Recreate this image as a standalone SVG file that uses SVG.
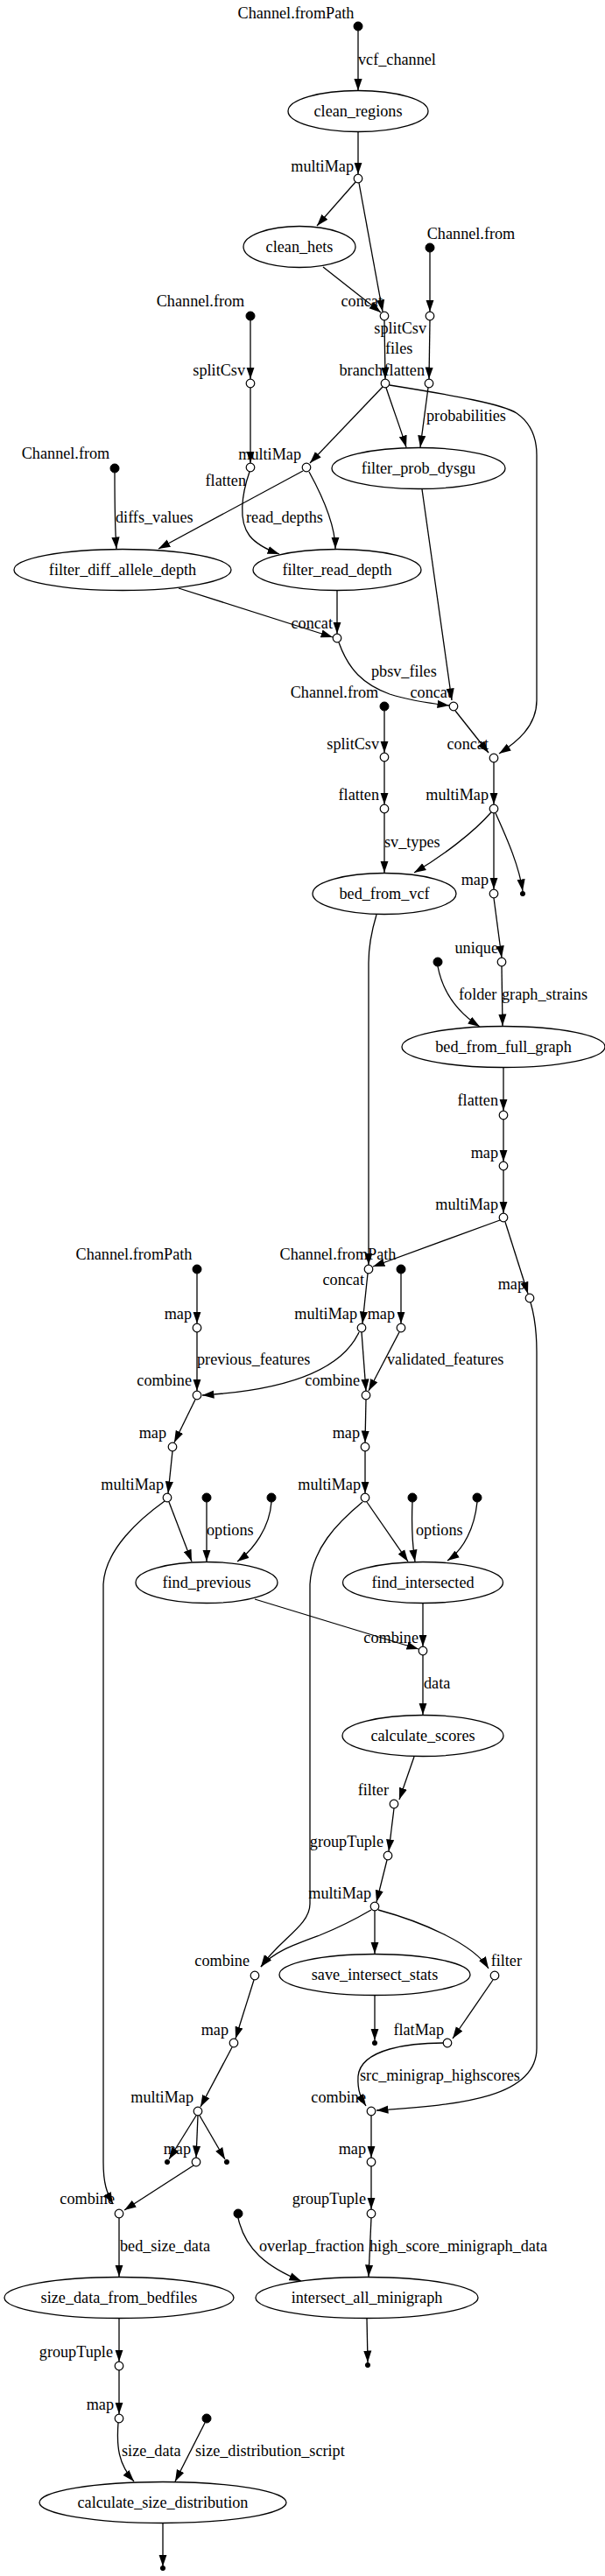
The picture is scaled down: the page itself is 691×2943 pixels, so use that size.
<svg xmlns="http://www.w3.org/2000/svg" width="691" height="2943" viewBox="0 0 691 2943">
<style>
text{font-family:"Liberation Serif","Times New Roman",serif;font-size:18.2px;fill:#000}
.nl{text-anchor:middle}
.xl{text-anchor:end}
.el{text-anchor:start}
.proc{fill:#fff;stroke:#000;stroke-width:1.3}
.op{fill:#fff;stroke:#000;stroke-width:1.2}
.pt{fill:#000;stroke:#000}
.e{fill:none;stroke:#000;stroke-width:1.3;marker-end:url(#arr)}
</style>
<defs>
<marker id="arr" markerUnits="userSpaceOnUse" markerWidth="14" markerHeight="10" refX="13.5" refY="5" orient="auto" viewBox="0 0 14 10">
<path d="M0,0.4 L13.5,5 L0,9.6 z" fill="#000"/>
</marker>
</defs>
<rect width="691" height="2943" fill="#fff"/>

<g id="connectors">
<path class="e" d="M409,35 L409,103.5"/>
<path class="e" d="M409,150.5 L409,199"/>
<path class="e" d="M406,208 L362,258"/>
<path class="e" d="M410,209 L437,356"/>
<path class="e" d="M369,305 L435,357"/>
<path class="e" d="M491,288 L491,356"/>
<path class="e" d="M439,366 L440,433"/>
<path class="e" d="M491,366 L490,433"/>
<path class="e" d="M286,366 L286,433"/>
<path class="e" d="M286,443 L286,529"/>
<path class="e" d="M437,442 L354,529"/>
<path class="e" d="M441,443 C450,470 459,494 464,511"/>
<path class="e" d="M445,440 C520,452 575,462 590,472 C606,483 613,500 613,520 L613,800 C613,830 590,848 570,861"/>
<path class="e" d="M489,443 L480,511"/>
<path class="e" d="M131,540 C131,570 131,600 133,627"/>
<path class="e" d="M285,539 C276,565 272,595 285,612 C293,622 305,628 319,633"/>
<path class="e" d="M346,538 L181,627"/>
<path class="e" d="M353,539 C370,570 383,600 383,627"/>
<path class="e" d="M482,559 L516,800"/>
<path class="e" d="M204,672 L380,728"/>
<path class="e" d="M385,675 L385,724"/>
<path class="e" d="M387,734 C398,765 415,782 445,793 C470,801 495,804 513,806"/>
<path class="e" d="M439,812 L439,860"/>
<path class="e" d="M439,870 L439,919"/>
<path class="e" d="M439,929 L439,997"/>
<path class="e" d="M520,812 L558,860"/>
<path class="e" d="M564,871 L564,919"/>
<path class="e" d="M561,928 C540,952 505,978 473,997"/>
<path class="e" d="M564,929 L564,1016"/>
<path class="e" d="M566,929 C580,960 593,990 597,1018"/>
<path class="e" d="M564,1026 L573,1094"/>
<path class="e" d="M500,1104 C505,1130 520,1155 548,1173"/>
<path class="e" d="M573,1104 L574,1172"/>
<path class="e" d="M430,1045 C424,1065 421,1080 421,1100 L421,1445"/>
<path class="e" d="M575,1220 L575,1269"/>
<path class="e" d="M575,1279 L575,1327"/>
<path class="e" d="M575,1337 L575,1386"/>
<path class="e" d="M571,1394 L426,1447"/>
<path class="e" d="M577,1396 L603,1478"/>
<path class="e" d="M225,1455 L225,1512"/>
<path class="e" d="M458,1455 L458,1512"/>
<path class="e" d="M420,1455 L414,1512"/>
<path class="e" d="M225,1522 L225,1589"/>
<path class="e" d="M410,1522 C390,1565 330,1588 231,1594"/>
<path class="e" d="M413,1522 L418,1589"/>
<path class="e" d="M456,1522 L421,1589"/>
<path class="e" d="M223,1599 L199,1648"/>
<path class="e" d="M418,1599 L417,1648"/>
<path class="e" d="M197,1658 L192,1706"/>
<path class="e" d="M417,1658 L417,1706"/>
<path class="e" d="M193,1716 L219,1784"/>
<path class="e" d="M236,1716 L236,1784"/>
<path class="e" d="M310,1716 C308,1745 290,1770 271,1784"/>
<path class="e" d="M188,1715 C160,1735 120,1770 118,1810 L118,2470 C118,2495 122,2505 129,2518"/>
<path class="e" d="M419,1716 L466,1784"/>
<path class="e" d="M471,1716 C470,1740 471,1765 474,1784"/>
<path class="e" d="M545,1716 C542,1745 530,1770 511,1783"/>
<path class="e" d="M414,1716 C385,1740 356,1770 354,1810 L354,2175 C354,2200 320,2215 298,2247"/>
<path class="e" d="M291,1827 L478,1884"/>
<path class="e" d="M483,1832 L483,1881"/>
<path class="e" d="M483,1891 L483,1959"/>
<path class="e" d="M473,2007 L456,2056"/>
<path class="e" d="M450,2066 L444,2115"/>
<path class="e" d="M442,2125 L430,2173"/>
<path class="e" d="M424,2182 C400,2196 385,2203 365,2211 C335,2222 312,2230 298,2247"/>
<path class="e" d="M428,2183 L428,2232"/>
<path class="e" d="M432,2182 C480,2195 540,2220 558,2249"/>
<path class="e" d="M428,2280 L428,2331"/>
<path class="e" d="M290,2262 L269,2329"/>
<path class="e" d="M563,2262 L517,2329"/>
<path class="e" d="M506,2334 C470,2334 412,2340 409,2372 C408,2390 413,2398 418,2406"/>
<path class="e" d="M606,1488 C611,1505 613,1525 613,1545 L613,2340 C613,2395 530,2405 430,2411"/>
<path class="e" d="M265,2339 L229,2407"/>
<path class="e" d="M424,2417 L424,2465"/>
<path class="e" d="M224,2417 L193,2467"/>
<path class="e" d="M226,2417 L224,2465"/>
<path class="e" d="M228,2417 L257,2467"/>
<path class="e" d="M221,2474 L142,2525"/>
<path class="e" d="M136,2534 L136,2601"/>
<path class="e" d="M424,2475 L424,2524"/>
<path class="e" d="M272,2534 C280,2570 305,2590 344,2606"/>
<path class="e" d="M424,2534 L421,2601"/>
<path class="e" d="M419,2649 L420,2699"/>
<path class="e" d="M136,2649 L136,2698"/>
<path class="e" d="M136,2708 L136,2758"/>
<path class="e" d="M135,2768 C133,2795 135,2815 153,2835"/>
<path class="e" d="M234,2768 L200,2835"/>
<path class="e" d="M186,2883 L186,2932"/>
<text class="el" x="409" y="74">vcf_channel</text>
<text class="el" x="440" y="404">files</text>
<text class="el" x="487" y="481">probabilities</text>
<text class="el" x="132" y="597">diffs_values</text>
<text class="el" x="281" y="597">read_depths</text>
<text class="el" x="424" y="773">pbsv_files</text>
<text class="el" x="439" y="968">sv_types</text>
<text class="el" x="524" y="1142">folder</text>
<text class="el" x="573" y="1142">graph_strains</text>
<text class="el" x="225" y="1559">previous_features</text>
<text class="el" x="442" y="1559">validated_features</text>
<text class="el" x="236" y="1754">options</text>
<text class="el" x="475" y="1754">options</text>
<text class="el" x="484" y="1929">data</text>
<text class="el" x="411" y="2377">src_minigrap_highscores</text>
<text class="el" x="137" y="2572">bed_size_data</text>
<text class="el" x="296" y="2572">overlap_fraction</text>
<text class="el" x="422" y="2572">high_score_minigraph_data</text>
<text class="el" x="139" y="2806">size_data</text>
<text class="el" x="223" y="2806">size_distribution_script</text>
</g>

<g id="p_vcf"><circle class="pt" cx="409" cy="30" r="5"/><text class="nl" x="338" y="21">Channel.fromPath</text></g>
<g id="clean_regions"><ellipse class="proc" cx="409" cy="127" rx="80" ry="23.5"/><text class="nl" x="409" y="133">clean_regions</text></g>
<g id="op_multiMap1"><circle class="op" cx="409" cy="204" r="4.8"/><text class="xl" x="404" y="196">multiMap</text></g>
<g id="clean_hets"><ellipse class="proc" cx="342" cy="282" rx="64" ry="23.5"/><text class="nl" x="342" y="288">clean_hets</text></g>
<g id="p_from1"><circle class="pt" cx="491" cy="283" r="5"/><text class="nl" x="538" y="273">Channel.from</text></g>
<g id="op_concat1"><circle class="op" cx="439" cy="361" r="4.8"/><text class="xl" x="437" y="350">concat</text></g>
<g id="op_splitCsv1"><circle class="op" cx="491" cy="361" r="4.8"/><text class="xl" x="487" y="381">splitCsv</text></g>
<g id="op_branch"><circle class="op" cx="440" cy="438" r="4.8"/><text class="xl" x="437" y="429">branch</text></g>
<g id="op_flatten1"><circle class="op" cx="490" cy="438" r="4.8"/><text class="xl" x="485" y="429">flatten</text></g>
<g id="p_from2"><circle class="pt" cx="286" cy="361" r="5"/><text class="nl" x="229" y="350">Channel.from</text></g>
<g id="op_splitCsv2"><circle class="op" cx="286" cy="438" r="4.8"/><text class="xl" x="280" y="429">splitCsv</text></g>
<g id="p_from3"><circle class="pt" cx="131" cy="535" r="5"/><text class="nl" x="75" y="524">Channel.from</text></g>
<g id="op_flatten2"><circle class="op" cx="286" cy="534" r="4.8"/><text class="xl" x="281" y="555">flatten</text></g>
<g id="op_multiMap2"><circle class="op" cx="350" cy="534" r="4.8"/><text class="xl" x="344" y="525">multiMap</text></g>
<g id="filter_prob_dysgu"><ellipse class="proc" cx="478" cy="535" rx="99" ry="23.5"/><text class="nl" x="478" y="541">filter_prob_dysgu</text></g>
<g id="filter_diff_allele_depth"><ellipse class="proc" cx="140" cy="651" rx="124" ry="23.5"/><text class="nl" x="140" y="657">filter_diff_allele_depth</text></g>
<g id="filter_read_depth"><ellipse class="proc" cx="385" cy="651" rx="96" ry="23.5"/><text class="nl" x="385" y="657">filter_read_depth</text></g>
<g id="op_concat2"><circle class="op" cx="385" cy="729" r="4.8"/><text class="xl" x="380" y="718">concat</text></g>
<g id="op_concat3"><circle class="op" cx="518" cy="807" r="4.8"/><text class="xl" x="516" y="797">concat</text></g>
<g id="p_from4"><circle class="pt" cx="439" cy="807" r="5"/><text class="nl" x="382" y="797">Channel.from</text></g>
<g id="op_splitCsv3"><circle class="op" cx="439" cy="865" r="4.8"/><text class="xl" x="433" y="856">splitCsv</text></g>
<g id="op_flatten3"><circle class="op" cx="439" cy="924" r="4.8"/><text class="xl" x="433" y="914">flatten</text></g>
<g id="op_concat4"><circle class="op" cx="564" cy="866" r="4.8"/><text class="xl" x="558" y="856">concat</text></g>
<g id="op_multiMap3"><circle class="op" cx="564" cy="924" r="4.8"/><text class="xl" x="558" y="914">multiMap</text></g>
<g id="bed_from_vcf"><ellipse class="proc" cx="439" cy="1021" rx="82" ry="23.5"/><text class="nl" x="439" y="1027">bed_from_vcf</text></g>
<g id="op_map1"><circle class="op" cx="564" cy="1021" r="4.8"/><text class="xl" x="558" y="1011">map</text></g>
<g id="end1"><circle class="pt" cx="597" cy="1021" r="2.6"/></g>
<g id="op_unique"><circle class="op" cx="573" cy="1099" r="4.8"/><text class="xl" x="569" y="1089">unique</text></g>
<g id="p_folder"><circle class="pt" cx="500" cy="1099" r="5"/></g>
<g id="bed_from_full_graph"><ellipse class="proc" cx="575" cy="1196" rx="116" ry="23.5"/><text class="nl" x="575" y="1202">bed_from_full_graph</text></g>
<g id="op_flatten4"><circle class="op" cx="575" cy="1274" r="4.8"/><text class="xl" x="569" y="1263">flatten</text></g>
<g id="op_map2"><circle class="op" cx="575" cy="1332" r="4.8"/><text class="xl" x="569" y="1323">map</text></g>
<g id="op_multiMap4"><circle class="op" cx="575" cy="1391" r="4.8"/><text class="xl" x="569" y="1382">multiMap</text></g>
<g id="op_concat5"><circle class="op" cx="421" cy="1450" r="4.8"/><text class="xl" x="416" y="1468">concat</text></g>
<g id="op_map3"><circle class="op" cx="605" cy="1483" r="4.8"/><text class="xl" x="600" y="1473">map</text></g>
<g id="p_path2"><circle class="pt" cx="225" cy="1450" r="5"/><text class="nl" x="153" y="1439">Channel.fromPath</text></g>
<g id="p_path3"><circle class="pt" cx="458" cy="1450" r="5"/><text class="nl" x="386" y="1439">Channel.fromPath</text></g>
<g id="op_map4"><circle class="op" cx="225" cy="1517" r="4.8"/><text class="xl" x="219" y="1507">map</text></g>
<g id="op_multiMap5"><circle class="op" cx="413" cy="1517" r="4.8"/><text class="xl" x="408" y="1507">multiMap</text></g>
<g id="op_map5"><circle class="op" cx="458" cy="1517" r="4.8"/><text class="xl" x="451" y="1507">map</text></g>
<g id="op_combine1"><circle class="op" cx="225" cy="1594" r="4.8"/><text class="xl" x="219" y="1583">combine</text></g>
<g id="op_combine2"><circle class="op" cx="418" cy="1594" r="4.8"/><text class="xl" x="411" y="1583">combine</text></g>
<g id="op_map6"><circle class="op" cx="197" cy="1653" r="4.8"/><text class="xl" x="190" y="1643">map</text></g>
<g id="op_map7"><circle class="op" cx="417" cy="1653" r="4.8"/><text class="xl" x="411" y="1643">map</text></g>
<g id="op_multiMap6"><circle class="op" cx="191" cy="1711" r="4.8"/><text class="xl" x="187" y="1702">multiMap</text></g>
<g id="op_multiMap7"><circle class="op" cx="417" cy="1711" r="4.8"/><text class="xl" x="412" y="1702">multiMap</text></g>
<g id="p_opt1"><circle class="pt" cx="236" cy="1711" r="5"/></g>
<g id="p_opt2"><circle class="pt" cx="310" cy="1711" r="5"/></g>
<g id="p_opt3"><circle class="pt" cx="471" cy="1711" r="5"/></g>
<g id="p_opt4"><circle class="pt" cx="545" cy="1711" r="5"/></g>
<g id="find_previous"><ellipse class="proc" cx="236" cy="1808" rx="81" ry="23.5"/><text class="nl" x="236" y="1814">find_previous</text></g>
<g id="find_intersected"><ellipse class="proc" cx="483" cy="1808" rx="91.5" ry="23.5"/><text class="nl" x="483" y="1814">find_intersected</text></g>
<g id="op_combine3"><circle class="op" cx="483" cy="1886" r="4.8"/><text class="xl" x="478" y="1877">combine</text></g>
<g id="calculate_scores"><ellipse class="proc" cx="483" cy="1983" rx="92" ry="23.5"/><text class="nl" x="483" y="1989">calculate_scores</text></g>
<g id="op_filter1"><circle class="op" cx="450" cy="2061" r="4.8"/><text class="xl" x="444" y="2051">filter</text></g>
<g id="op_groupTuple1"><circle class="op" cx="443" cy="2120" r="4.8"/><text class="xl" x="438" y="2110">groupTuple</text></g>
<g id="op_multiMap8"><circle class="op" cx="428" cy="2178" r="4.8"/><text class="xl" x="424" y="2169">multiMap</text></g>
<g id="op_combine4"><circle class="op" cx="291" cy="2257" r="4.8"/><text class="xl" x="285" y="2246">combine</text></g>
<g id="save_intersect_stats"><ellipse class="proc" cx="428" cy="2256" rx="109" ry="23.5"/><text class="nl" x="428" y="2262">save_intersect_stats</text></g>
<g id="op_filter2"><circle class="op" cx="565" cy="2257" r="4.8"/><text class="xl" x="596" y="2246">filter</text></g>
<g id="end2"><circle class="pt" cx="428" cy="2334" r="2.6"/></g>
<g id="op_map8"><circle class="op" cx="267" cy="2334" r="4.8"/><text class="xl" x="261" y="2325">map</text></g>
<g id="op_flatMap"><circle class="op" cx="511" cy="2334" r="4.8"/><text class="xl" x="507" y="2325">flatMap</text></g>
<g id="op_combine5"><circle class="op" cx="424" cy="2412" r="4.8"/><text class="xl" x="418" y="2402">combine</text></g>
<g id="op_multiMap9"><circle class="op" cx="226" cy="2412" r="4.8"/><text class="xl" x="221" y="2402">multiMap</text></g>
<g id="op_map9"><circle class="op" cx="424" cy="2470" r="4.8"/><text class="xl" x="418" y="2461">map</text></g>
<g id="end3"><circle class="pt" cx="191" cy="2470" r="2.6"/></g>
<g id="op_map10"><circle class="op" cx="224" cy="2470" r="4.8"/><text class="xl" x="218" y="2461">map</text></g>
<g id="end4"><circle class="pt" cx="259" cy="2470" r="2.6"/></g>
<g id="op_combine6"><circle class="op" cx="136" cy="2529" r="4.8"/><text class="xl" x="131" y="2518">combine</text></g>
<g id="op_groupTuple2"><circle class="op" cx="424" cy="2529" r="4.8"/><text class="xl" x="418" y="2518">groupTuple</text></g>
<g id="p_overlap"><circle class="pt" cx="272" cy="2529" r="5"/></g>
<g id="size_data_from_bedfiles"><ellipse class="proc" cx="136" cy="2625" rx="131" ry="23.5"/><text class="nl" x="136" y="2631">size_data_from_bedfiles</text></g>
<g id="intersect_all_minigraph"><ellipse class="proc" cx="419" cy="2625" rx="127" ry="23.5"/><text class="nl" x="419" y="2631">intersect_all_minigraph</text></g>
<g id="end5"><circle class="pt" cx="420" cy="2702" r="2.6"/></g>
<g id="op_groupTuple3"><circle class="op" cx="136" cy="2703" r="4.8"/><text class="xl" x="129" y="2693">groupTuple</text></g>
<g id="op_map11"><circle class="op" cx="136" cy="2763" r="4.8"/><text class="xl" x="130" y="2753">map</text></g>
<g id="p_script"><circle class="pt" cx="236" cy="2763" r="5"/></g>
<g id="calculate_size_distribution"><ellipse class="proc" cx="186" cy="2859" rx="141" ry="23.5"/><text class="nl" x="186" y="2865">calculate_size_distribution</text></g>
<g id="end6"><circle class="pt" cx="186" cy="2934" r="2.6"/></g>
</svg>
